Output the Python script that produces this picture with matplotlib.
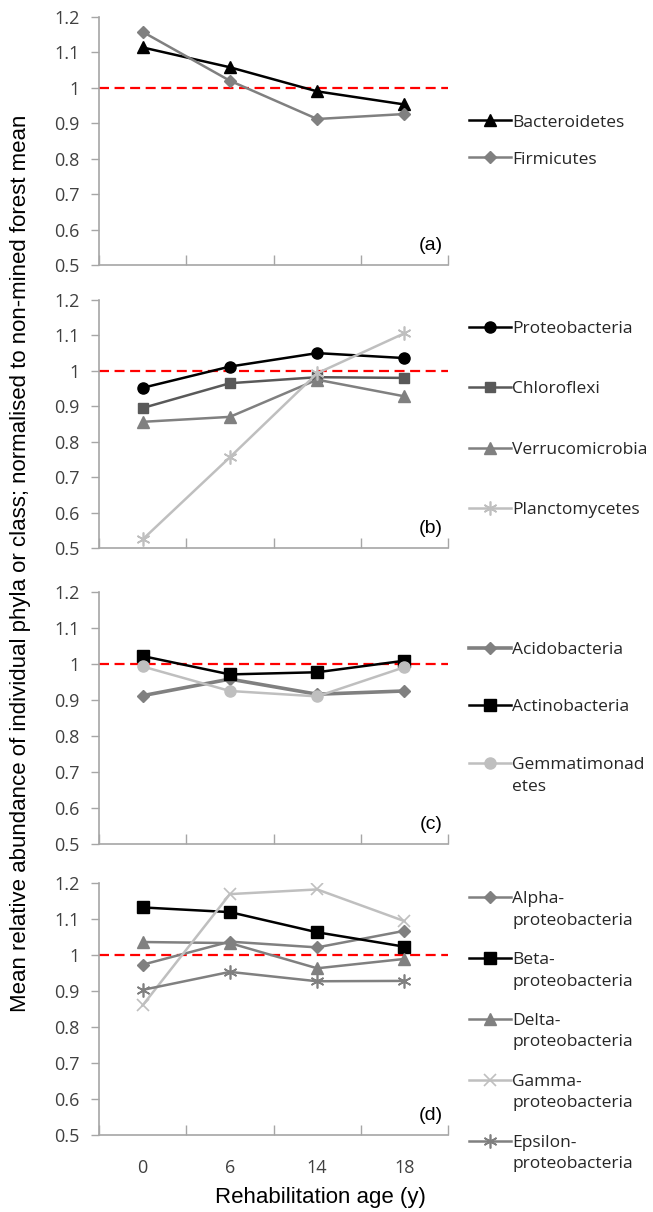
import numpy as np
import matplotlib
matplotlib.use("Agg")
import matplotlib.pyplot as plt

ages = ["0", "6", "14", "18"]
yticks = [0.5, 0.6, 0.7, 0.8, 0.9, 1.0, 1.1, 1.2]
ytick_labels = ["0.5", "0.6", "0.7", "0.8", "0.9", "1", "1.1", "1.2"]

# panel (a)
bacteroidetes = [1.114, 1.058, 0.990, 0.953]
firmicutes = [1.158, 1.020, 0.912, 0.926]

# panel (b)
proteobacteria = [0.952, 1.012, 1.050, 1.036]
chloroflexi = [0.895, 0.965, 0.982, 0.980]
verrucomicrobia = [0.856, 0.870, 0.975, 0.928]
planctomycetes = [0.524, 0.756, 0.993, 1.106]

# panel (c)
acidobacteria = [0.912, 0.958, 0.916, 0.925]
actinobacteria = [1.022, 0.971, 0.977, 1.009]
gemmatimonadetes = [0.993, 0.925, 0.910, 0.991]

# panel (d)
alpha = [0.973, 1.037, 1.021, 1.067]
beta = [1.132, 1.119, 1.063, 1.023]
delta = [1.036, 1.033, 0.963, 0.989]
gamma = [0.860, 1.169, 1.182, 1.094]
epsilon = [0.903, 0.953, 0.927, 0.928]

BLACK = "#000000"
GREY = "#808080"
DARK = "#595959"
LIGHT = "#bfbfbf"
AST = (6, 2, 0)

# tag, series, legend label spacing, legend vertical anchor
panels = [
    ("(a)", [("Bacteroidetes", bacteroidetes, BLACK, "^", 8.5, 1.8),
             ("Firmicutes", firmicutes, GREY, "D", 6.5, 1.8)], 1.2, 0.5),
    ("(b)", [("Proteobacteria", proteobacteria, BLACK, "o", 8, 1.8),
             ("Chloroflexi", chloroflexi, DARK, "s", 7.5, 1.8),
             ("Verrucomicrobia", verrucomicrobia, GREY, "^", 8, 1.8),
             ("Planctomycetes", planctomycetes, LIGHT, AST, 10, 1.8)], 2.55, 0.518),
    ("(c)", [("Acidobacteria", acidobacteria, GREY, "D", 6.5, 2.6),
             ("Actinobacteria", actinobacteria, BLACK, "s", 9, 1.8),
             ("Gemmatimonad\netes", gemmatimonadetes, LIGHT, "o", 8, 1.8)], 2.4, 0.5),
    ("(d)", [("Alpha-\nproteobacteria", alpha, GREY, "D", 6.5, 1.8),
             ("Beta-\nproteobacteria", beta, BLACK, "s", 9, 1.8),
             ("Delta-\nproteobacteria", delta, GREY, "^", 8, 1.8),
             ("Gamma-\nproteobacteria", gamma, LIGHT, "x", 9, 1.8),
             ("Epsilon-\nproteobacteria", epsilon, GREY, AST, 10, 1.8)], 1.35, 0.41),
]

# axes boxes in figure fractions: left, bottom, width, height
boxes = [
    [0.1516, 0.7814, 0.5345, 0.2046],
    [0.1516, 0.5479, 0.5345, 0.2046],
    [0.1516, 0.3036, 0.5345, 0.2080],
    [0.1516, 0.0635, 0.5345, 0.2080],
]

fig = plt.figure(figsize=(6.53, 12.12), dpi=100)
x = np.arange(len(ages))

for i, (tag, series, spacing, ly) in enumerate(panels):
    ax = fig.add_axes(boxes[i])
    for name, vals, col, mk, ms, lw in series:
        ax.plot(x, vals, color=col, marker=mk, markersize=ms, lw=lw,
                markeredgecolor=col, markerfacecolor=col, label=name,
                markeredgewidth=1.2 if mk in ("x", AST) else 1.0, zorder=3)
    ax.axhline(1.0, color="#ff0000", lw=1.6, dashes=(4.5, 2.5), zorder=2)

    ax.set_xlim(-0.5, 3.5)
    ax.set_ylim(0.5, 1.2)
    ax.set_yticks(yticks)
    ax.set_yticklabels(ytick_labels, fontfamily="Open Sans", fontsize=13,
                       color="#404040")
    ax.tick_params(axis="y", length=6, width=1, color="#a6a6a6", pad=8)
    ax.set_xticks(np.arange(-0.5, 4.0, 1.0))
    ax.set_xticklabels([])
    ax.tick_params(axis="x", which="major", direction="in", length=7,
                   width=1, color="#a6a6a6")
    ax.set_xticks(x, minor=True)
    if i == 3:
        ax.set_xticklabels(ages, minor=True, fontfamily="Open Sans",
                           fontsize=13, color="#404040")
    ax.tick_params(axis="x", which="minor", length=0, pad=17)

    for s in ("top", "right"):
        ax.spines[s].set_visible(False)
    for s in ("left", "bottom"):
        ax.spines[s].set_color("#a6a6a6")
        ax.spines[s].set_linewidth(1.2)

    ax.text(0.985, 0.045, tag, transform=ax.transAxes, ha="right",
            va="bottom", fontsize=14, fontfamily="Liberation Sans")

    leg = ax.legend(loc="center left", bbox_to_anchor=(1.04, ly),
                    frameon=False, handlelength=2.4, handletextpad=0.1,
                    labelspacing=spacing, borderaxespad=0,
                    prop={"family": "Open Sans", "size": 12.5})
    for t in leg.get_texts():
        t.set_color("#262626")
        t.set_linespacing(1.45)
    # keep the handle level with the first line of two-line labels
    for col_box in leg._legend_handle_box.get_children():
        for item in col_box.get_children():
            txt = item.get_children()[1]
            if "\n" in txt.get_children()[0].get_text():
                item.align = "top"

fig.text(0.49, 1 - 1198 / 1212, "Rehabilitation age (y)", ha="center",
         va="center", fontsize=16, fontfamily="Liberation Sans")
fig.text(0.032, 1 - 563 / 1212,
         "Mean relative abundance of individual phyla or class; "
         "normalised to non-mined forest mean",
         rotation=90, ha="center", va="center", fontsize=16,
         fontfamily="Liberation Sans")

fig.savefig("out.png", dpi=100)
